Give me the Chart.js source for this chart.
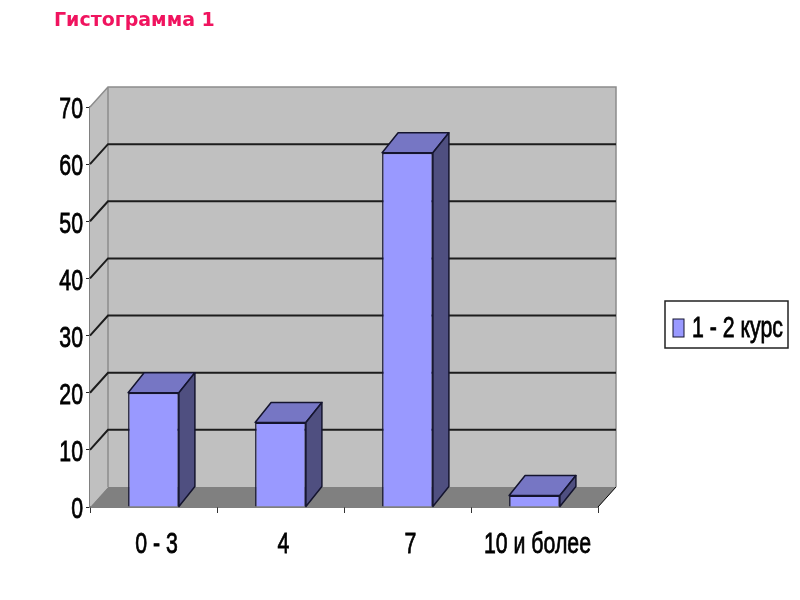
<!DOCTYPE html>
<html>
<head>
<meta charset="utf-8">
<style>
  html, body { margin: 0; padding: 0; background: #fff; }
  canvas { display: block; }
</style>
<script src="https://cdn.jsdelivr.net/npm/chart.js@4"></script>
</head>
<body>
<canvas id="myChart" width="800" height="600"></canvas>
<script>
const chartTitle = 'Гистограмма 1';
const seriesName = '1 - 2 курс';
const categories = ['0 - 3', '4', '7', '10 и более'];
const seriesValues = [20, 14.8, 62, 2];
const axisMax = 70;
const axisStep = 10;

// подписи в оригинале сжаты по горизонтали
const labelFont = '30px "Liberation Sans", sans-serif';
const squeeze = 0.71;

// глубина псевдо-3D: стенки и столбцы
const wallDx = 18, wallDy = 20;
const barDx = 16, barDy = 20;

function polygon(ctx, pts, fill, stroke, lw) {
    ctx.beginPath();
    pts.forEach((p, i) => i ? ctx.lineTo(p[0], p[1]) : ctx.moveTo(p[0], p[1]));
    ctx.closePath();
    ctx.fillStyle = fill;
    ctx.fill();
    if (stroke) {
        ctx.strokeStyle = stroke;
        ctx.lineWidth = lw;
        ctx.stroke();
    }
}

function squeezedText(ctx, text, x, y, align) {
    ctx.save();
    ctx.translate(x, y);
    ctx.scale(squeeze, 1);
    ctx.font = labelFont;
    ctx.textAlign = align;
    ctx.textBaseline = 'middle';
    ctx.fillStyle = '#000';
    ctx.strokeStyle = '#000';
    ctx.lineWidth = 0.8;
    ctx.fillText(text, 0, 0);
    ctx.strokeText(text, 0, 0);
    ctx.restore();
}

const walls3d = {
    id: 'walls3d',
    beforeDatasetsDraw(chart) {
        const { ctx, chartArea: a, scales: { y } } = chart;
        const yZero = y.getPixelForValue(0);
        const yTop = y.getPixelForValue(axisMax);
        ctx.save();
        // боковая и задняя стенки
        polygon(ctx, [[a.left, yZero], [a.left + wallDx, yZero - wallDy], [a.left + wallDx, yTop - wallDy], [a.left, yTop]], '#c0c0c0');
        polygon(ctx, [[a.left + wallDx, yZero - wallDy], [a.right + wallDx, yZero - wallDy], [a.right + wallDx, yTop - wallDy], [a.left + wallDx, yTop - wallDy]], '#c0c0c0');
        // пол
        polygon(ctx, [[a.left, yZero], [a.right, yZero], [a.right + wallDx, yZero - wallDy], [a.left + wallDx, yZero - wallDy]], '#808080');
        // рамка стенок
        ctx.strokeStyle = '#8c8c8c';
        ctx.lineWidth = 1.5;
        ctx.beginPath();
        ctx.moveTo(a.left, yTop);
        ctx.lineTo(a.left + wallDx, yTop - wallDy);
        ctx.lineTo(a.right + wallDx, yTop - wallDy);
        ctx.lineTo(a.right + wallDx, yZero - wallDy);
        ctx.moveTo(a.left + wallDx, yTop - wallDy);
        ctx.lineTo(a.left + wallDx, yZero - wallDy);
        ctx.stroke();
        // линии сетки
        ctx.strokeStyle = '#1c1c1c';
        ctx.lineWidth = 2;
        y.ticks.forEach(t => {
            if (t.value === 0 || t.value === axisMax) return;
            const py = y.getPixelForValue(t.value);
            ctx.beginPath();
            ctx.moveTo(a.left, py);
            ctx.lineTo(a.left + wallDx, py - wallDy);
            ctx.lineTo(a.right + wallDx, py - wallDy);
            ctx.stroke();
        });
        // правый край пола
        ctx.strokeStyle = '#000';
        ctx.lineWidth = 1;
        ctx.beginPath();
        ctx.moveTo(a.right, yZero);
        ctx.lineTo(a.right + wallDx, yZero - wallDy);
        ctx.stroke();
        ctx.restore();
    },
    afterDatasetsDraw(chart) {
        const { ctx } = chart;
        ctx.save();
        ctx.lineJoin = 'round';
        chart.getDatasetMeta(0).data.forEach(bar => {
            const p = bar.getProps(['x', 'y', 'base', 'width'], true);
            const l = p.x - p.width / 2, r = p.x + p.width / 2;
            polygon(ctx, [[l, p.y], [r, p.y], [r + barDx, p.y - barDy], [l + barDx, p.y - barDy]], '#7676c4', '#14142e', 1.5);
            polygon(ctx, [[r, p.y], [r + barDx, p.y - barDy], [r + barDx, p.base - barDy], [r, p.base]], '#4f4f80', '#14142e', 1.5);
        });
        ctx.restore();
    },
    afterDraw(chart) {
        const { ctx, scales: { x, y } } = chart;
        // подписи осей
        y.ticks.forEach(t => {
            squeezedText(ctx, String(t.value), 83, y.getPixelForValue(t.value) + 3, 'right');
        });
        categories.forEach((c, i) => {
            squeezedText(ctx, c, x.getPixelForTick(i) + 3, 545, 'center');
        });
        // легенда справа
        ctx.save();
        ctx.fillStyle = '#fff';
        ctx.strokeStyle = '#222';
        ctx.lineWidth = 1.5;
        ctx.fillRect(665, 301, 123, 47);
        ctx.strokeRect(665, 301, 123, 47);
        ctx.fillStyle = '#9999ff';
        ctx.strokeStyle = '#14142e';
        ctx.lineWidth = 1;
        ctx.fillRect(673, 319, 11, 18);
        ctx.strokeRect(673, 319, 11, 18);
        ctx.restore();
        squeezedText(ctx, seriesName, 692, 329, 'left');
    }
};

const ctx = document.getElementById('myChart').getContext('2d');
const myChart = new Chart(ctx, {
    type: 'bar',
    data: {
        labels: categories,
        datasets: [{
            label: seriesName,
            data: seriesValues,
            backgroundColor: '#9999ff',
            borderColor: '#14142e',
            borderWidth: 1.5,
            barPercentage: 0.4,
            categoryPercentage: 1
        }]
    },
    options: {
        responsive: false,
        animation: false,
        layout: { padding: { left: 54, right: 202, top: 0, bottom: 0 } },
        plugins: {
            legend: { display: false },
            tooltip: { enabled: false },
            title: {
                display: true,
                text: chartTitle,
                align: 'start',
                color: '#f0145f',
                font: { family: '"DejaVu Sans", sans-serif', size: 19, weight: 'bold' },
                padding: { top: 10, bottom: 74.2 }
            }
        },
        scales: {
            x: {
                afterFit(scale) { scale.height = 93; },
                border: { color: '#000', width: 1.5 },
                grid: { drawOnChartArea: false, tickLength: 6, tickColor: '#333', offset: true },
                ticks: { display: false, maxRotation: 0, autoSkip: false }
            },
            y: {
                min: 0,
                max: axisMax,
                afterFit(scale) { scale.width = 36; },
                border: { color: '#808080', width: 1.5 },
                grid: { drawOnChartArea: false, tickLength: 4, tickColor: '#222' },
                ticks: { display: false, stepSize: axisStep }
            }
        }
    },
    plugins: [walls3d]
});
</script>
</body>
</html>
